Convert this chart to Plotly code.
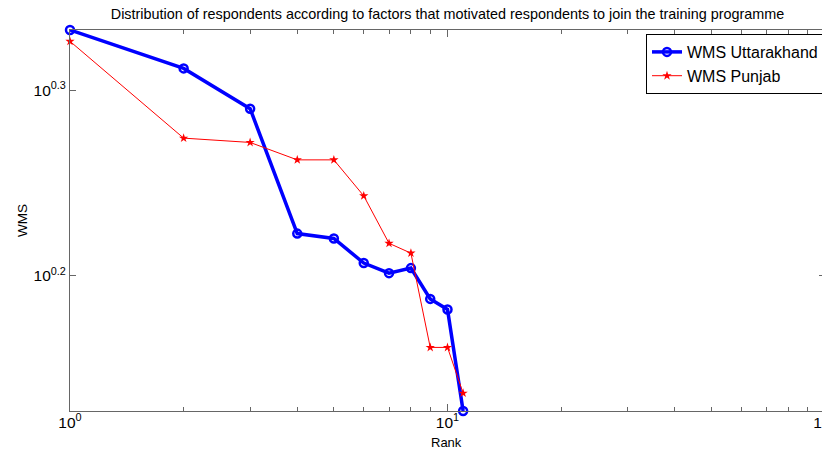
import math
import plotly.graph_objects as go

rank = list(range(1, 12))
wms_uttarakhand = [2.15, 2.05, 1.95, 1.67, 1.66, 1.61, 1.59, 1.60, 1.54, 1.52, 1.34]
wms_punjab = [2.12, 1.88, 1.87, 1.83, 1.83, 1.75, 1.65, 1.63, 1.45, 1.45, 1.37]

x_major = [1, 10, 100]
x_major_text = ["10<sup>0</sup>", "10<sup>1</sup>", "10<sup>2</sup>"]
x_minor = [d * m for m in (1, 10) for d in range(2, 10)]
y_major = [10 ** 0.2, 10 ** 0.3]
y_major_text = ["10<sup>0.2</sup>", "10<sup>0.3</sup>"]

all_y = wms_uttarakhand + wms_punjab
y_range = [math.log10(min(all_y)), math.log10(max(all_y))]

AX = "#666666"
FONT = "Liberation Sans, Arial, sans-serif"
OFF = 8  # page body margin compensation
W, H = 830 - OFF, 454 - OFF
PL, PR, PT, PB = 70, 825, 30, 411  # plot area in page pixels
L, R, T, B = PL - OFF, 830 - PR, PT - OFF, 454 - PB
PW, PH = PR - PL, PB - PT

fig = go.Figure()
fig.add_trace(go.Scatter(
    x=rank, y=wms_uttarakhand, mode="lines+markers", name="WMS Uttarakhand",
    line=dict(color="#0000ff", width=3.5),
    marker=dict(symbol="circle-open", size=8, color="#0000ff",
                line=dict(color="#0000ff", width=2.5)),
    cliponaxis=False,
))
fig.add_trace(go.Scatter(
    x=rank, y=wms_punjab, mode="lines+markers", name="WMS Punjab",
    line=dict(color="#ff0000", width=1),
    marker=dict(symbol="star", size=7, color="#ff0000"),
    cliponaxis=False,
))
# invisible trace so the overlay axis for major ticks is drawn
fig.add_trace(go.Scatter(x=[None], y=[None], xaxis="x2", yaxis="y",
                         showlegend=False, hoverinfo="skip"))

fig.update_layout(
    width=W, height=H,
    margin=dict(l=L, r=R, t=T, b=B),
    paper_bgcolor="white", plot_bgcolor="white",
    font=dict(family=FONT, color="black"),
    title=dict(
        text="Distribution of respondents according to factors that motivated respondents to join the training programme",
        x=0.5, xref="paper", xanchor="center",
        y=1 - (14 - OFF) / H, yref="container", yanchor="middle",
        font=dict(size=14.4, color="black", family=FONT),
    ),
    xaxis=dict(
        type="log", range=[0, 2], automargin=False,
        tickmode="array", tickvals=x_minor, ticktext=[""] * len(x_minor),
        ticks="inside", ticklen=4, tickcolor=AX, tickwidth=1,
        showline=True, linecolor=AX, linewidth=1, mirror="ticks",
        showgrid=False, zeroline=False,
    ),
    xaxis2=dict(
        type="log", range=[0, 2], overlaying="x", side="bottom", automargin=False,
        tickmode="array", tickvals=x_major, ticktext=x_major_text,
        ticks="inside", ticklen=7, tickcolor=AX, tickwidth=1,
        showline=False, mirror="ticks", ticklabeloverflow="allow",
        showgrid=False, zeroline=False,
        tickfont=dict(size=15.5, color="black", family=FONT),
    ),
    yaxis=dict(
        type="log", range=y_range, automargin=False,
        tickmode="array", tickvals=y_major, ticktext=y_major_text,
        ticks="inside", ticklen=6, tickcolor=AX, tickwidth=1,
        showline=True, linecolor=AX, linewidth=1, mirror="ticks",
        showgrid=False, zeroline=False,
        tickfont=dict(size=15.5, color="black", family=FONT),
    ),
    legend=dict(
        x=(824 - PL) / PW, xanchor="right",
        y=1 - (34 - PT) / PH, yanchor="top",
        bgcolor="white", bordercolor="black", borderwidth=1,
        font=dict(size=16, color="black", family=FONT),
        tracegroupgap=0,
    ),
    annotations=[
        dict(text="Rank", xref="paper", yref="paper", x=(446.5 - PL) / PW, y=-(442 - PB) / PH,
             xanchor="center", yanchor="middle", showarrow=False,
             font=dict(size=13, color="black", family=FONT)),
        dict(text="WMS", xref="paper", yref="paper", x=(22.5 - PL) / PW, y=0.5,
             xanchor="center", yanchor="middle", showarrow=False, textangle=-90,
             font=dict(size=13.5, color="black", family=FONT)),
    ],
)

fig.write_html("out.html")
